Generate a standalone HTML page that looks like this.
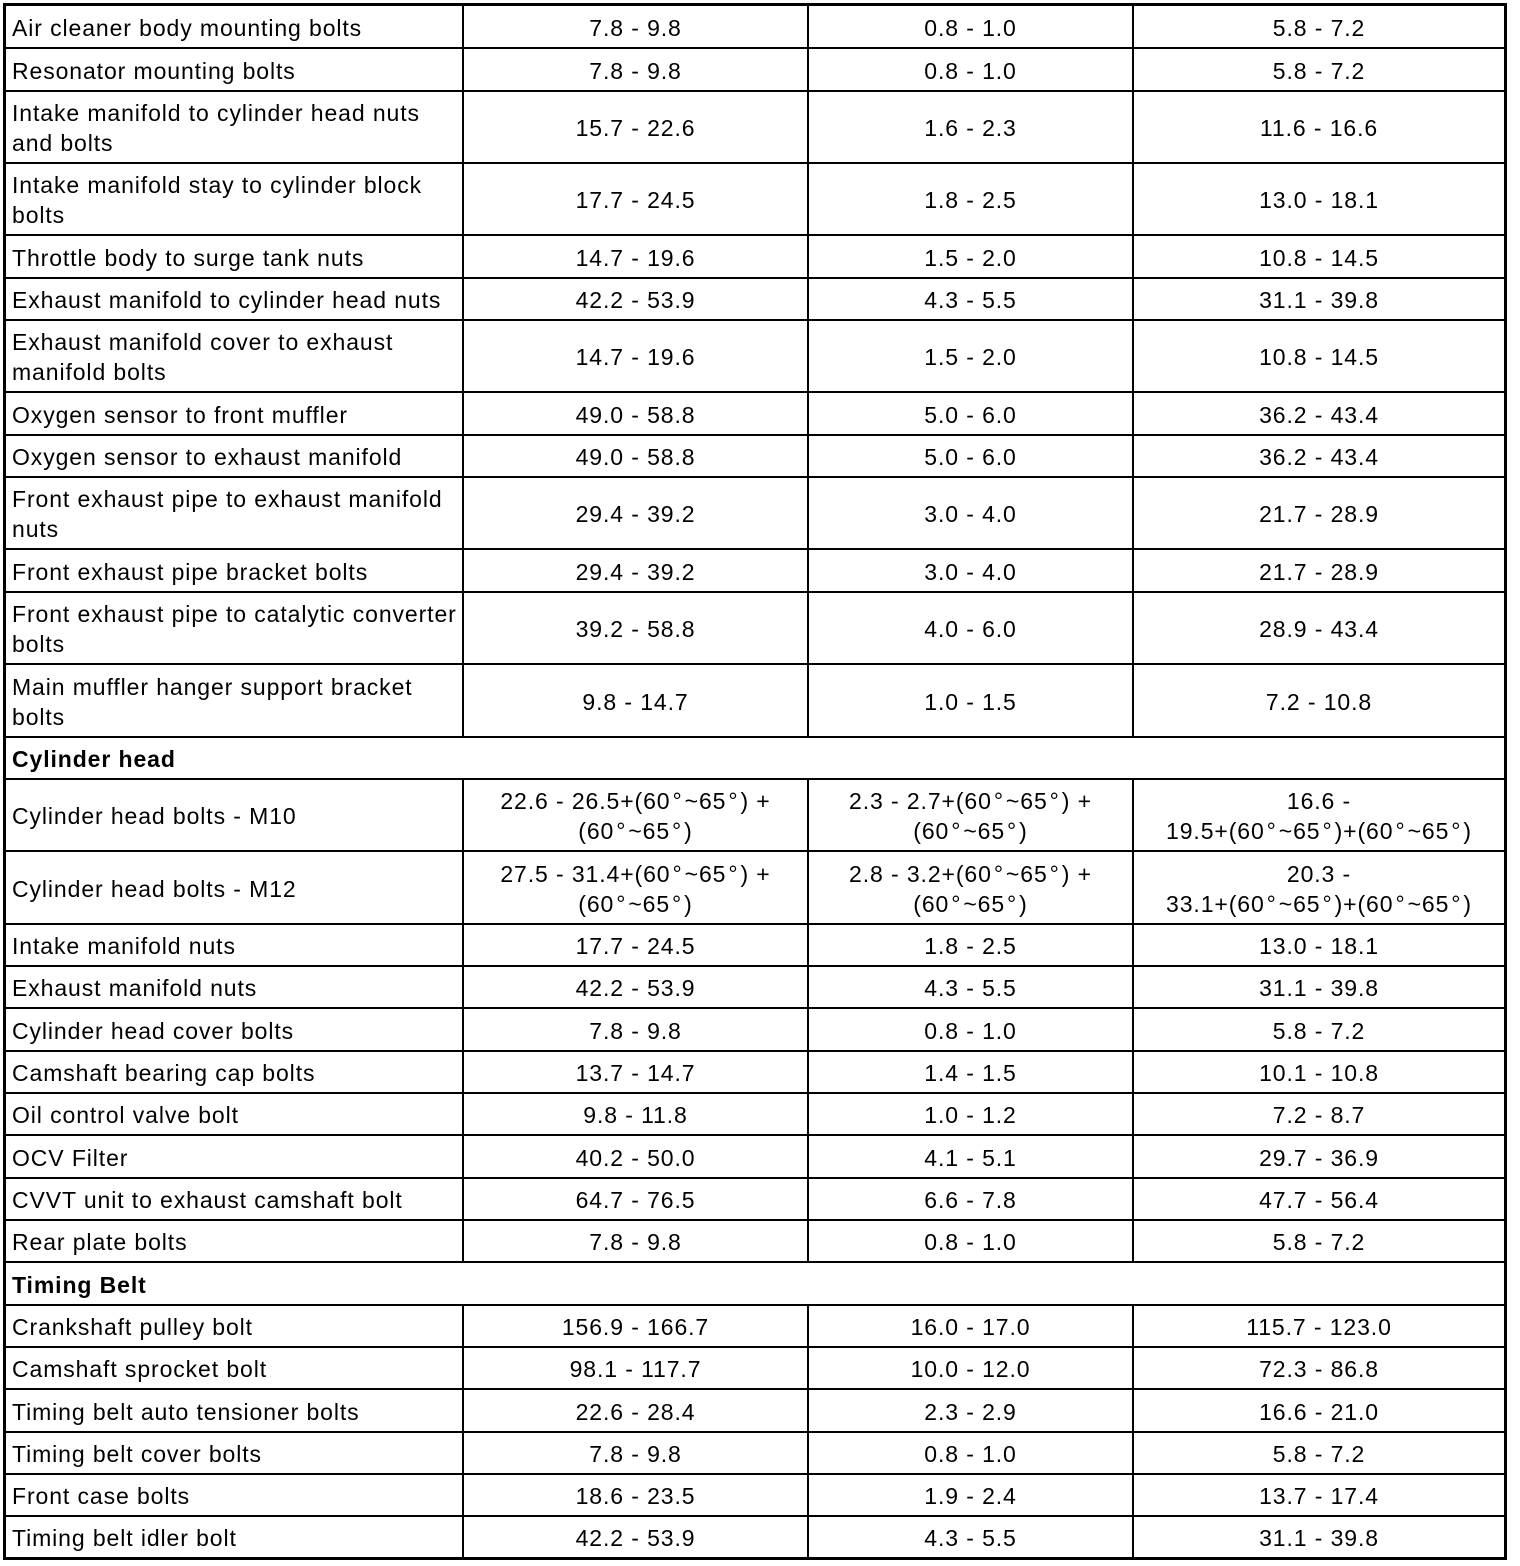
<!DOCTYPE html>
<html>
<head>
<meta charset="utf-8">
<style>
  html,body{margin:0;padding:0;background:#fff;}
  #w{position:relative;width:1520px;height:1566px;background:#fff;overflow:hidden;
     font-family:"Liberation Sans",Arial,Helvetica,sans-serif;font-size:23px;letter-spacing:0.9px;color:#000;}
  .r{position:absolute;left:6px;width:1498px;}
  .c{position:absolute;top:0;bottom:0;display:flex;align-items:center;line-height:30px;white-space:nowrap;padding-top:2px;box-sizing:border-box;}
  .c1{left:0;width:456px;padding-left:6px;}
  .c2{left:458px;width:343px;justify-content:center;text-align:center;}
  .c3{left:803px;width:323px;justify-content:center;text-align:center;}
  .c4{left:1128px;width:370px;justify-content:center;text-align:center;}
  .h{font-weight:bold;}
  .hl{position:absolute;left:6px;width:1498px;height:2px;background:#000;}
  .vl{position:absolute;top:6px;height:1551px;width:2px;background:#000;}
  .wb{position:absolute;left:6px;width:1498px;background:#fff;}
  .bd{position:absolute;background:#000;}
  .dg{margin:0 2px;}
</style>
</head>
<body>
<div id="w">
  <!-- vertical column lines -->
  <div class="vl" style="left:462px"></div>
  <div class="vl" style="left:807px"></div>
  <div class="vl" style="left:1132px"></div>
  <!-- white boxes for header rows -->
  <div class="wb" style="top:738px;height:40px"></div>
  <div class="wb" style="top:1263px;height:41px"></div>

  <!-- horizontal lines -->
  <div class="hl" style="top:47px"></div>
  <div class="hl" style="top:90px"></div>
  <div class="hl" style="top:162px"></div>
  <div class="hl" style="top:234px"></div>
  <div class="hl" style="top:277px"></div>
  <div class="hl" style="top:319px"></div>
  <div class="hl" style="top:391px"></div>
  <div class="hl" style="top:434px"></div>
  <div class="hl" style="top:476px"></div>
  <div class="hl" style="top:548px"></div>
  <div class="hl" style="top:591px"></div>
  <div class="hl" style="top:663px"></div>
  <div class="hl" style="top:736px"></div>
  <div class="hl" style="top:778px"></div>
  <div class="hl" style="top:850px"></div>
  <div class="hl" style="top:923px"></div>
  <div class="hl" style="top:965px"></div>
  <div class="hl" style="top:1007px"></div>
  <div class="hl" style="top:1050px"></div>
  <div class="hl" style="top:1092px"></div>
  <div class="hl" style="top:1134px"></div>
  <div class="hl" style="top:1177px"></div>
  <div class="hl" style="top:1219px"></div>
  <div class="hl" style="top:1261px"></div>
  <div class="hl" style="top:1304px"></div>
  <div class="hl" style="top:1346px"></div>
  <div class="hl" style="top:1388px"></div>
  <div class="hl" style="top:1431px"></div>
  <div class="hl" style="top:1473px"></div>
  <div class="hl" style="top:1515px"></div>

  <!-- outer border -->
  <div class="bd" style="left:3px;top:3px;width:1504px;height:3px"></div>
  <div class="bd" style="left:3px;top:1557px;width:1504px;height:3px"></div>
  <div class="bd" style="left:3px;top:3px;width:3px;height:1557px"></div>
  <div class="bd" style="left:1504px;top:3px;width:3px;height:1557px"></div>

  <!-- rows -->
  <div class="r" style="top:6px;height:42px"><div class="c c1"><div>Air cleaner body mounting bolts</div></div><div class="c c2"><div>7.8 - 9.8</div></div><div class="c c3"><div>0.8 - 1.0</div></div><div class="c c4"><div>5.8 - 7.2</div></div></div>
  <div class="r" style="top:48px;height:43px"><div class="c c1"><div>Resonator mounting bolts</div></div><div class="c c2"><div>7.8 - 9.8</div></div><div class="c c3"><div>0.8 - 1.0</div></div><div class="c c4"><div>5.8 - 7.2</div></div></div>
  <div class="r" style="top:91px;height:72px"><div class="c c1"><div>Intake manifold to cylinder head nuts<br>and bolts</div></div><div class="c c2"><div>15.7 - 22.6</div></div><div class="c c3"><div>1.6 - 2.3</div></div><div class="c c4"><div>11.6 - 16.6</div></div></div>
  <div class="r" style="top:163px;height:72px"><div class="c c1"><div>Intake manifold stay to cylinder block<br>bolts</div></div><div class="c c2"><div>17.7 - 24.5</div></div><div class="c c3"><div>1.8 - 2.5</div></div><div class="c c4"><div>13.0 - 18.1</div></div></div>
  <div class="r" style="top:235px;height:43px"><div class="c c1"><div>Throttle body to surge tank nuts</div></div><div class="c c2"><div>14.7 - 19.6</div></div><div class="c c3"><div>1.5 - 2.0</div></div><div class="c c4"><div>10.8 - 14.5</div></div></div>
  <div class="r" style="top:278px;height:42px"><div class="c c1"><div>Exhaust manifold to cylinder head nuts</div></div><div class="c c2"><div>42.2 - 53.9</div></div><div class="c c3"><div>4.3 - 5.5</div></div><div class="c c4"><div>31.1 - 39.8</div></div></div>
  <div class="r" style="top:320px;height:72px"><div class="c c1"><div>Exhaust manifold cover to exhaust<br>manifold bolts</div></div><div class="c c2"><div>14.7 - 19.6</div></div><div class="c c3"><div>1.5 - 2.0</div></div><div class="c c4"><div>10.8 - 14.5</div></div></div>
  <div class="r" style="top:392px;height:43px"><div class="c c1"><div>Oxygen sensor to front muffler</div></div><div class="c c2"><div>49.0 - 58.8</div></div><div class="c c3"><div>5.0 - 6.0</div></div><div class="c c4"><div>36.2 - 43.4</div></div></div>
  <div class="r" style="top:435px;height:42px"><div class="c c1"><div>Oxygen sensor to exhaust manifold</div></div><div class="c c2"><div>49.0 - 58.8</div></div><div class="c c3"><div>5.0 - 6.0</div></div><div class="c c4"><div>36.2 - 43.4</div></div></div>
  <div class="r" style="top:477px;height:72px"><div class="c c1"><div>Front exhaust pipe to exhaust manifold<br>nuts</div></div><div class="c c2"><div>29.4 - 39.2</div></div><div class="c c3"><div>3.0 - 4.0</div></div><div class="c c4"><div>21.7 - 28.9</div></div></div>
  <div class="r" style="top:549px;height:43px"><div class="c c1"><div>Front exhaust pipe bracket bolts</div></div><div class="c c2"><div>29.4 - 39.2</div></div><div class="c c3"><div>3.0 - 4.0</div></div><div class="c c4"><div>21.7 - 28.9</div></div></div>
  <div class="r" style="top:592px;height:72px"><div class="c c1"><div>Front exhaust pipe to catalytic converter<br>bolts</div></div><div class="c c2"><div>39.2 - 58.8</div></div><div class="c c3"><div>4.0 - 6.0</div></div><div class="c c4"><div>28.9 - 43.4</div></div></div>
  <div class="r" style="top:664px;height:73px"><div class="c c1"><div>Main muffler hanger support bracket<br>bolts</div></div><div class="c c2"><div>9.8 - 14.7</div></div><div class="c c3"><div>1.0 - 1.5</div></div><div class="c c4"><div>7.2 - 10.8</div></div></div>

  <div class="r" style="top:737px;height:42px"><div class="c c1 h"><div>Cylinder head</div></div></div>

  <div class="r" style="top:779px;height:72px"><div class="c c1"><div>Cylinder head bolts - M10</div></div><div class="c c2"><div>22.6 - 26.5+(60<span class="dg">°</span>~65<span class="dg">°</span>) +<br>(60<span class="dg">°</span>~65<span class="dg">°</span>)</div></div><div class="c c3"><div>2.3 - 2.7+(60<span class="dg">°</span>~65<span class="dg">°</span>) +<br>(60<span class="dg">°</span>~65<span class="dg">°</span>)</div></div><div class="c c4"><div>16.6 -<br>19.5+(60<span class="dg">°</span>~65<span class="dg">°</span>)+(60<span class="dg">°</span>~65<span class="dg">°</span>)</div></div></div>
  <div class="r" style="top:851px;height:73px"><div class="c c1"><div>Cylinder head bolts - M12</div></div><div class="c c2"><div>27.5 - 31.4+(60<span class="dg">°</span>~65<span class="dg">°</span>) +<br>(60<span class="dg">°</span>~65<span class="dg">°</span>)</div></div><div class="c c3"><div>2.8 - 3.2+(60<span class="dg">°</span>~65<span class="dg">°</span>) +<br>(60<span class="dg">°</span>~65<span class="dg">°</span>)</div></div><div class="c c4"><div>20.3 -<br>33.1+(60<span class="dg">°</span>~65<span class="dg">°</span>)+(60<span class="dg">°</span>~65<span class="dg">°</span>)</div></div></div>
  <div class="r" style="top:924px;height:42px"><div class="c c1"><div>Intake manifold nuts</div></div><div class="c c2"><div>17.7 - 24.5</div></div><div class="c c3"><div>1.8 - 2.5</div></div><div class="c c4"><div>13.0 - 18.1</div></div></div>
  <div class="r" style="top:966px;height:42px"><div class="c c1"><div>Exhaust manifold nuts</div></div><div class="c c2"><div>42.2 - 53.9</div></div><div class="c c3"><div>4.3 - 5.5</div></div><div class="c c4"><div>31.1 - 39.8</div></div></div>
  <div class="r" style="top:1008px;height:43px"><div class="c c1"><div>Cylinder head cover bolts</div></div><div class="c c2"><div>7.8 - 9.8</div></div><div class="c c3"><div>0.8 - 1.0</div></div><div class="c c4"><div>5.8 - 7.2</div></div></div>
  <div class="r" style="top:1051px;height:42px"><div class="c c1"><div>Camshaft bearing cap bolts</div></div><div class="c c2"><div>13.7 - 14.7</div></div><div class="c c3"><div>1.4 - 1.5</div></div><div class="c c4"><div>10.1 - 10.8</div></div></div>
  <div class="r" style="top:1093px;height:42px"><div class="c c1"><div>Oil control valve bolt</div></div><div class="c c2"><div>9.8 - 11.8</div></div><div class="c c3"><div>1.0 - 1.2</div></div><div class="c c4"><div>7.2 - 8.7</div></div></div>
  <div class="r" style="top:1135px;height:43px"><div class="c c1"><div>OCV Filter</div></div><div class="c c2"><div>40.2 - 50.0</div></div><div class="c c3"><div>4.1 - 5.1</div></div><div class="c c4"><div>29.7 - 36.9</div></div></div>
  <div class="r" style="top:1178px;height:42px"><div class="c c1"><div>CVVT unit to exhaust camshaft bolt</div></div><div class="c c2"><div>64.7 - 76.5</div></div><div class="c c3"><div>6.6 - 7.8</div></div><div class="c c4"><div>47.7 - 56.4</div></div></div>
  <div class="r" style="top:1220px;height:42px"><div class="c c1"><div>Rear plate bolts</div></div><div class="c c2"><div>7.8 - 9.8</div></div><div class="c c3"><div>0.8 - 1.0</div></div><div class="c c4"><div>5.8 - 7.2</div></div></div>

  <div class="r" style="top:1262px;height:43px"><div class="c c1 h"><div>Timing Belt</div></div></div>

  <div class="r" style="top:1305px;height:42px"><div class="c c1"><div>Crankshaft pulley bolt</div></div><div class="c c2"><div>156.9 - 166.7</div></div><div class="c c3"><div>16.0 - 17.0</div></div><div class="c c4"><div>115.7 - 123.0</div></div></div>
  <div class="r" style="top:1347px;height:42px"><div class="c c1"><div>Camshaft sprocket bolt</div></div><div class="c c2"><div>98.1 - 117.7</div></div><div class="c c3"><div>10.0 - 12.0</div></div><div class="c c4"><div>72.3 - 86.8</div></div></div>
  <div class="r" style="top:1389px;height:43px"><div class="c c1"><div>Timing belt auto tensioner bolts</div></div><div class="c c2"><div>22.6 - 28.4</div></div><div class="c c3"><div>2.3 - 2.9</div></div><div class="c c4"><div>16.6 - 21.0</div></div></div>
  <div class="r" style="top:1432px;height:42px"><div class="c c1"><div>Timing belt cover bolts</div></div><div class="c c2"><div>7.8 - 9.8</div></div><div class="c c3"><div>0.8 - 1.0</div></div><div class="c c4"><div>5.8 - 7.2</div></div></div>
  <div class="r" style="top:1474px;height:42px"><div class="c c1"><div>Front case bolts</div></div><div class="c c2"><div>18.6 - 23.5</div></div><div class="c c3"><div>1.9 - 2.4</div></div><div class="c c4"><div>13.7 - 17.4</div></div></div>
  <div class="r" style="top:1516px;height:41px"><div class="c c1"><div>Timing belt idler bolt</div></div><div class="c c2"><div>42.2 - 53.9</div></div><div class="c c3"><div>4.3 - 5.5</div></div><div class="c c4"><div>31.1 - 39.8</div></div></div>
</div>
</body>
</html>
